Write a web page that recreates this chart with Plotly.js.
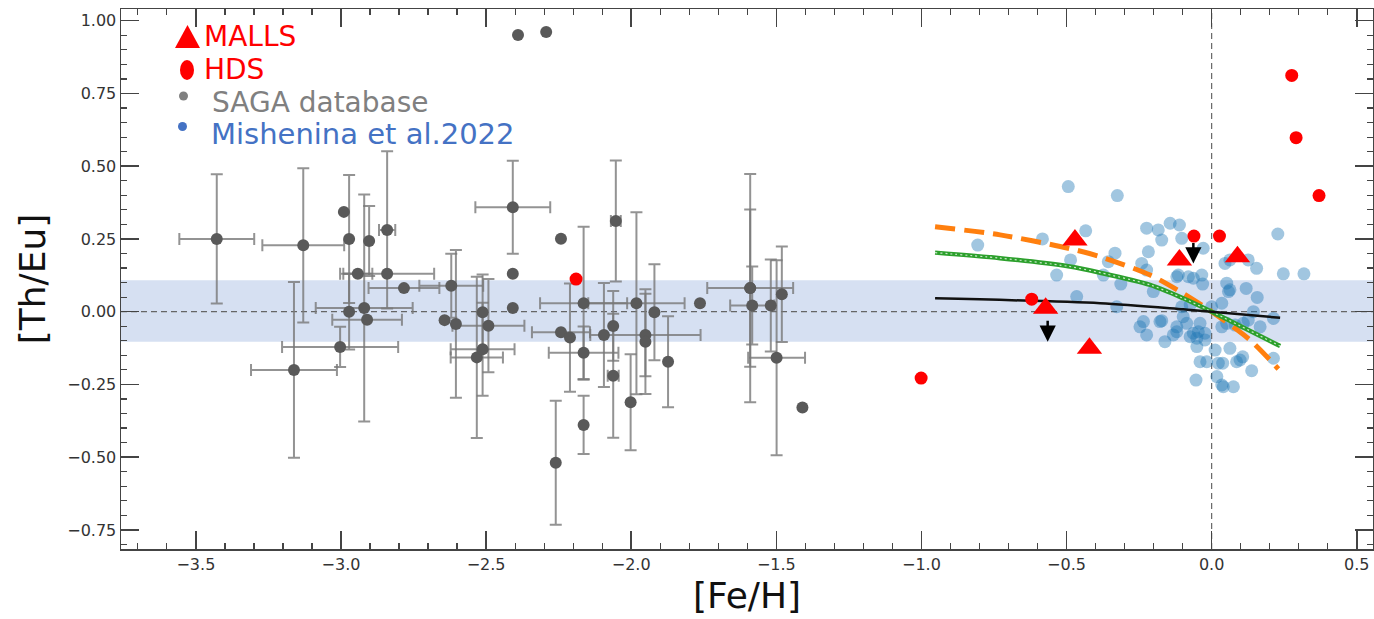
<!DOCTYPE html>
<html><head><meta charset="utf-8">
<script src="https://cdn.plot.ly/plotly-3.0.1.min.js"></script>
<style>html,body{margin:0;padding:0;background:#fff}</style>
</head><body>
<div id="chart" style="width:1374px;height:619px"></div>
<script>
// ---- SAGA database (with error bars; NaN = no bar) ----
const sagaX  = [-3.428,-3.130,-2.972,-2.903,-2.841,-2.942,-2.841,-2.920,-2.783,-2.972,-2.910,-3.003,-3.162,-2.620,-2.604,-2.532,-2.512,-2.512,-2.492,-2.408,-2.053,-2.164,-2.242,-2.211,-2.164,-2.164,-2.260,-2.094,-2.062,-2.062,-1.982,-1.951,-1.951,-1.920,-2.002,-1.873,-1.590,-1.590,-1.583,-1.519,-1.481,-1.499];
const sagaY  = [0.250,0.228,0.250,0.243,0.281,0.130,0.130,0.013,0.081,0.000,-0.028,-0.121,-0.200,0.089,-0.042,-0.157,-0.129,-0.002,-0.048,0.359,0.312,0.029,-0.071,-0.089,-0.141,-0.389,-0.519,-0.080,-0.049,-0.220,0.029,-0.080,-0.103,-0.002,-0.311,-0.172,0.081,0.081,0.021,0.021,0.060,-0.158];
const sagaEx = [0.129,0.141,NaN,NaN,0.028,0.050,0.162,0.167,0.122,NaN,0.120,0.200,0.148,0.110,NaN,0.090,0.110,NaN,0.124,0.129,0.017,0.150,0.100,NaN,0.120,NaN,NaN,NaN,NaN,0.019,0.166,0.190,NaN,NaN,NaN,NaN,0.148,NaN,0.076,NaN,NaN,0.098];
const sagaEy = [0.222,0.265,0.220,0.120,0.270,NaN,NaN,0.390,NaN,0.130,NaN,0.069,0.302,0.110,0.254,0.277,0.160,0.130,0.160,0.160,0.208,0.263,NaN,0.186,0.090,0.100,0.213,0.179,0.120,0.213,0.313,0.142,0.180,0.165,0.165,0.156,0.392,0.270,0.134,0.158,0.164,0.335];
// SAGA points without error bars
const sagaX2 = [-2.990,-2.643,-2.408,-2.408,-2.242,-1.763,-1.410,-2.390,-2.293];
const sagaY2 = [0.343,-0.029,0.130,0.013,0.251,0.029,-0.329,0.951,0.961];

// ---- HDS ----
const hdsX = [-2.190,-1.001,-0.620,-0.061,0.027,0.276,0.291,0.370];
const hdsY = [0.112,-0.228,0.043,0.260,0.260,0.812,0.598,0.399];

// ---- MALLS ----
const mallsX = [-0.572,-0.471,-0.421,-0.111,0.089];
const mallsY = [0.012,0.246,-0.126,0.178,0.189];

// ---- upper limits (arrows) ----
const limX    = [-0.565,-0.063];
const limTail = [-0.026,0.241];
const limTip  = [-0.103,0.166];

// ---- Mishenina et al. 2022 ----
const mishX = [-0.494,-0.325,-0.806,-0.583,-0.434,-0.486,-0.534,-0.465,-0.333,-0.373,-0.313,-0.327,-0.224,-0.184,-0.172,-0.143,-0.111,-0.103,-0.218,-0.241,-0.224,-0.115,-0.063,-0.034,-0.029,-0.031,0.046,0.063,0.126,0.155,0.228,0.247,0.318,0.052,0.063,0.119,0.157,0.167,0.126,0.144,0.213,0.213,0.035,0.063,0.086,0.107,0.138,0.038,0.018,0.040,0.075,-0.054,-0.040,-0.017,0.012,-0.051,-0.023,-0.063,-0.040,-0.086,-0.120,-0.132,-0.161,-0.178,-0.235,-0.224,-0.098,-0.074,-0.103,-0.120,0.000,-0.201,0.109,-0.356,-0.080,0.058,-0.172,-0.247,-0.120,-0.046,-0.051,-0.074,-0.023,0.023,0.098,0.035,0.081,0.052,0.035];
const mishY = [0.430,0.399,0.229,0.250,0.278,0.178,0.126,0.052,0.201,0.126,0.095,0.017,0.287,0.281,0.246,0.304,0.298,0.252,0.206,0.166,0.143,0.126,0.115,0.126,0.218,0.095,0.166,0.178,0.178,0.149,0.267,0.130,0.130,0.098,0.075,0.080,0.049,-0.052,-0.029,0.000,-0.023,-0.160,-0.052,-0.126,-0.172,-0.155,-0.203,-0.177,-0.223,-0.258,-0.258,-0.235,-0.172,-0.172,-0.132,-0.120,-0.074,-0.074,-0.040,-0.040,-0.052,-0.080,-0.103,-0.034,-0.034,-0.080,-0.017,0.023,0.017,0.120,0.017,0.069,-0.040,0.172,0.120,0.069,-0.031,-0.052,-0.069,-0.069,-0.091,-0.086,-0.097,-0.177,-0.166,-0.252,-0.046,-0.040,0.029];

// ---- model curves ----
const orangeX = [-0.953,-0.729,-0.494,-0.384,-0.212,-0.098,0.000,0.132,0.230];
const orangeY = [0.292,0.264,0.218,0.189,0.126,0.063,0.000,-0.097,-0.197];
const greenX  = [-0.953,-0.729,-0.494,-0.384,-0.212,-0.098,0.000,0.236];
const greenY  = [0.203,0.184,0.156,0.134,0.092,0.046,0.000,-0.118];
const blackX  = [-0.953,-0.384,-0.098,0.000,0.236];
const blackY  = [0.046,0.029,0.008,0.000,-0.021];

// ---- solar band ----
const bandLow = -0.103, bandHigh = 0.108;

// ---- legend ----
const legendLabels = ['MALLS','HDS','SAGA database','Mishenina et al.2022'];
const legendColors = ['#ff0000','#ff0000','#808080','#4472c4'];

// pixel helpers for the hand-drawn legend (plot area: x 121..1373, y 9..549)
const L=121, R=1373, T=9, B=549;
const px = v => (v-L)/(R-L);
const py = v => (B-v)/(B-T);

const saga = {
  x: sagaX, y: sagaY, type:'scatter', mode:'markers',
  marker:{size:12, color:'#595959'},
  error_x:{type:'data', array:sagaEx, visible:true, color:'rgba(120,120,120,0.8)', thickness:2, width:6},
  error_y:{type:'data', array:sagaEy, visible:true, color:'rgba(120,120,120,0.8)', thickness:2, width:6},
  name:'SAGA database', showlegend:false
};
const saga2 = {x:sagaX2, y:sagaY2, type:'scatter', mode:'markers', marker:{size:12,color:'#595959'}, showlegend:false, name:'SAGA database'};
const mish = {x:mishX, y:mishY, type:'scatter', mode:'markers', marker:{size:13, color:'rgba(31,119,180,0.42)'}, showlegend:false, name:'Mishenina et al.2022'};
const orange = {x:orangeX, y:orangeY, type:'scatter', mode:'lines', line:{color:'#ff7f0e', width:5, dash:'20px,9px', shape:'spline', smoothing:0.8}, showlegend:false};
const green = {x:greenX, y:greenY, type:'scatter', mode:'lines', line:{color:'#2ca02c', width:4.5, shape:'spline', smoothing:0.8}, showlegend:false};
const green2 = {x:greenX, y:greenY, type:'scatter', mode:'lines', line:{color:'rgba(255,255,255,0.75)', width:1.2, dash:'2px,3px', shape:'spline', smoothing:0.8}, showlegend:false};
const black = {x:blackX, y:blackY, type:'scatter', mode:'lines', line:{color:'#111', width:2.5, shape:'spline', smoothing:0.8}, showlegend:false};
const hds = {x:hdsX, y:hdsY, type:'scatter', mode:'markers', marker:{size:13, color:'#ff0000'}, showlegend:false, name:'HDS'};
const malls = {x:mallsX, y:mallsY, type:'scatter', mode:'markers', marker:{size:22, color:'#ff0000', symbol:'triangle-up'}, showlegend:false, name:'MALLS'};

const annotations = [];
for (let i=0;i<limX.length;i++){
  annotations.push({x:limX[i], y:limTip[i], ax:limX[i], ay:limTail[i], xref:'x', yref:'y', axref:'x', ayref:'y',
    text:'', showarrow:true, arrowhead:2, arrowsize:1.3, arrowwidth:2.5, arrowcolor:'#000', standoff:0});
}
const legY = [36,70,102,134];
const legX = [203,203,211,210];
const legSize = [28,28,28,29];
for (let i=0;i<legendLabels.length;i++){
  annotations.push({xref:'paper', yref:'paper', x:px(legX[i]), y:py(legY[i]), xanchor:'left', yanchor:'middle',
    text:legendLabels[i], showarrow:false, borderpad:0, font:{family:'DejaVu Sans', size:legSize[i], color:legendColors[i]}});
}

const shapes = [
  {type:'rect', xref:'paper', yref:'y', x0:0, x1:1, y0:bandLow, y1:bandHigh, fillcolor:'rgb(214,224,242)', line:{width:0}, layer:'below'},
  {type:'line', xref:'paper', yref:'y', x0:0, x1:1, y0:0, y1:0, line:{color:'#666', width:1.2, dash:'6px,4px'}, layer:'below'},
  {type:'line', xref:'x', yref:'paper', x0:0, x1:0, y0:0, y1:1, line:{color:'#666', width:1.2, dash:'6px,4px'}, layer:'below'},
  // legend symbols
  {type:'path', xref:'paper', yref:'paper', path:`M ${px(175)},${py(48)} L ${px(200)},${py(48)} L ${px(187.5)},${py(25)} Z`, fillcolor:'#ff0000', line:{width:0}, layer:'above'},
  {type:'circle', xref:'paper', yref:'paper', x0:px(180), x1:px(194), y0:py(80), y1:py(60), fillcolor:'#ff0000', line:{width:0}, layer:'above'},
  {type:'circle', xref:'paper', yref:'paper', x0:px(179), x1:px(188), y0:py(100.5), y1:py(91.5), fillcolor:'#808080', line:{width:0}, layer:'above'},
  {type:'circle', xref:'paper', yref:'paper', x0:px(178), x1:px(187), y0:py(131), y1:py(122), fillcolor:'#4472c4', line:{width:0}, layer:'above'}
];

const axisCommon = {
  showline:true, linecolor:'#444', linewidth:1.5, mirror:'ticks',
  ticks:'inside', ticklen:18, tickwidth:1.5, tickcolor:'#444',
  showgrid:false, zeroline:false,
  tickfont:{family:'DejaVu Sans', size:16, color:'#333'}
};

const layout = {
  width:1374, height:619,
  margin:{l:121, r:1, t:9, b:70},
  paper_bgcolor:'#fff', plot_bgcolor:'#fff',
  font:{family:'DejaVu Sans'},
  showlegend:false,
  xaxis:Object.assign({}, axisCommon, {
    range:[-3.758, 0.556], dtick:0.5, tick0:0, tickformat:'.1f',
    minor:{dtick:0.1, ticks:'inside', ticklen:6, tickwidth:1.2, tickcolor:'#444'},
    title:{text:'[Fe/H]', font:{family:'DejaVu Sans', size:36, color:'#111'}, standoff:10}
  }),
  yaxis:Object.assign({}, axisCommon, {
    range:[-0.8155, 1.0402], dtick:0.25, tick0:0, tickformat:'.2f',
    minor:{dtick:0.05, ticks:'inside', ticklen:6, tickwidth:1.2, tickcolor:'#444'},
    title:{text:'[Th/Eu]', font:{family:'DejaVu Sans', size:36, color:'#111'}, standoff:10}
  }),
  shapes:shapes,
  annotations:annotations
};

Plotly.newPlot('chart', [saga, saga2, mish, orange, green, green2, black, hds, malls], layout, {displayModeBar:false, staticPlot:true});
</script>
</body></html>
